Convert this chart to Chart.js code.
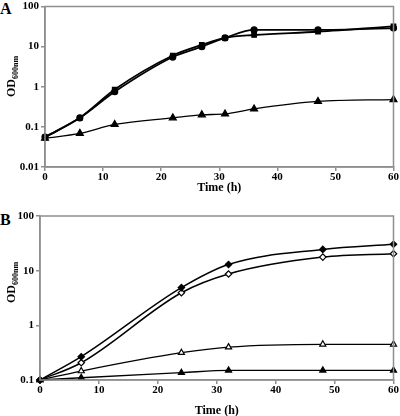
<!DOCTYPE html>
<html><head><meta charset="utf-8">
<script src="https://cdn.jsdelivr.net/npm/chart.js@4/dist/chart.umd.min.js"></script>
<style>
html,body{margin:0;padding:0;background:#fff;width:400px;height:416px;overflow:hidden;position:relative}
.cw{position:absolute;left:0;width:400px}
#wa{top:-1px;height:200px}
#wb{top:206px;height:212px}
.lab{position:absolute;left:0;font:bold 16px "Liberation Serif";line-height:16px;color:#000}
</style></head><body>
<div class="lab" style="top:1px">A</div>
<div class="lab" style="top:212px">B</div>
<div class="cw" id="wa"><canvas id="ca" width="400" height="200"></canvas></div>
<div class="cw" id="wb"><canvas id="cb" width="400" height="212"></canvas></div>
<script>
// ---- Panel A data ----
const timeA = [0, 6, 12, 22, 27, 31, 36, 47, 60];
const circleA = [0.056, 0.168, 0.75, 5.5, 10, 16.5, 26, 26, 29];
const squareA = [0.055, 0.168, 0.85, 6.0, 11, 16.5, 19.5, 23.5, 32];
const triangleA = [0.052, 0.069, 0.115, 0.168, 0.2, 0.21, 0.28, 0.43, 0.48];
const yTicksA = [0.01, 0.1, 1, 10, 100];
// ---- Panel B data ----
const timeB = [0, 7, 24, 32, 48, 60];
const filledDiamondB = [0.1, 0.267, 4.9, 13, 24.5, 30.5];
const openDiamondB = [0.1, 0.207, 3.95, 8.7, 17.7, 20.4];
const openTriangleB = [0.1, 0.146, 0.316, 0.4, 0.45, 0.45];
const filledTriangleB = [0.1, 0.11, 0.136, 0.15, 0.15, 0.15];
const yTicksB = [0.1, 1, 10, 100];
const xTicks = [0, 10, 20, 30, 40, 50, 60];

const GRAY = '#8f8f8f';
const FONT = 'Liberation Serif';

function pts(xs, ys) { return xs.map((x, i) => ({x: x, y: ys[i]})); }

function ds(data, style, radius, filled, lw) {
  return {
    data: data,
    borderColor: '#000',
    backgroundColor: filled ? '#000' : '#fff',
    pointBorderColor: '#000',
    pointBackgroundColor: filled ? '#000' : '#fff',
    pointStyle: style,
    pointRadius: radius,
    pointBorderWidth: 1.2,
    borderWidth: lw,
    cubicInterpolationMode: 'monotone',
    clip: false
  };
}

const framePlugin = {
  id: 'frame',
  afterDraw(chart, args, opts) {
    const {ctx, chartArea: a} = chart;
    ctx.save();
    ctx.strokeStyle = GRAY;
    ctx.lineWidth = 1.5;
    ctx.strokeRect(a.left, a.top, a.right - a.left, a.bottom - a.top);
    // y-axis title with subscript
    ctx.fillStyle = '#000';
    ctx.translate(opts.tx, opts.ty);
    ctx.rotate(-Math.PI / 2);
    ctx.textBaseline = 'alphabetic';
    ctx.textAlign = 'left';
    ctx.font = 'bold 12px "' + FONT + '"';
    ctx.fillText('OD', 0, 0);
    const w = ctx.measureText('OD').width;
    ctx.font = 'bold 8px "' + FONT + '"';
    ctx.fillText('600nm', w, 3);
    ctx.restore();
  }
};

function makeChart(id, datasets, yMin, yMax, yTicks, yWidth, xHeight, padding, title) {
  return new Chart(document.getElementById(id), {
    type: 'line',
    data: {datasets: datasets},
    options: {
      responsive: false,
      animation: false,
      layout: {padding: padding},
      plugins: {legend: {display: false}, tooltip: {enabled: false}, frame: title},
      scales: {
        x: {
          type: 'linear', min: 0, max: 60,
          afterBuildTicks: s => { s.ticks = xTicks.map(v => ({value: v})); },
          afterFit: s => { s.height = xHeight; },
          grid: {drawOnChartArea: false, drawTicks: true, tickLength: 4, color: GRAY, lineWidth: 1.5},
          border: {display: true, color: GRAY, width: 1.5},
          ticks: {color: '#000', padding: 1, font: {family: FONT, size: 11, weight: 'bold', lineHeight: 1}, maxRotation: 0},
          title: {display: true, text: 'Time (h)', color: '#000', padding: 0, font: {family: FONT, size: 12, weight: 'bold', lineHeight: 1.2}}
        },
        y: {
          type: 'logarithmic', min: yMin, max: yMax,
          afterBuildTicks: s => { s.ticks = yTicks.map(v => ({value: v})); },
          afterFit: s => { s.width = yWidth; },
          grid: {drawOnChartArea: false, drawTicks: true, tickLength: 4, color: GRAY, lineWidth: 1.5},
          border: {display: true, color: GRAY, width: 1.5},
          ticks: {color: '#000', padding: 2, font: {family: FONT, size: 11, weight: 'bold', lineHeight: 1},
                  callback: v => String(v)}
        }
      }
    },
    plugins: [framePlugin]
  });
}

makeChart('ca', [
  ds(pts(timeA, circleA), 'circle', 3, true, 1.8),
  ds(pts(timeA, squareA), 'rect', 3.2, true, 1.8),
  ds(pts(timeA, triangleA), 'triangle', 4, true, 1.3)
], 0.01, 100, yTicksA, 45, 28, {left: 0, right: 6, top: 5, bottom: 4}, {tx: 15, ty: 98});

makeChart('cb', [
  ds(pts(timeB, filledDiamondB), 'rectRot', 3.2, true, 1.5),
  ds(pts(timeB, openDiamondB), 'rectRot', 3.2, false, 1.5),
  ds(pts(timeB, openTriangleB), 'triangle', 3.5, false, 1.3),
  ds(pts(timeB, filledTriangleB), 'triangle', 3.5, true, 1.3)
], 0.1, 100, yTicksB, 40, 38, {left: 0, right: 6, top: 10, bottom: 0}, {tx: 15, ty: 97});
</script>
</body></html>
